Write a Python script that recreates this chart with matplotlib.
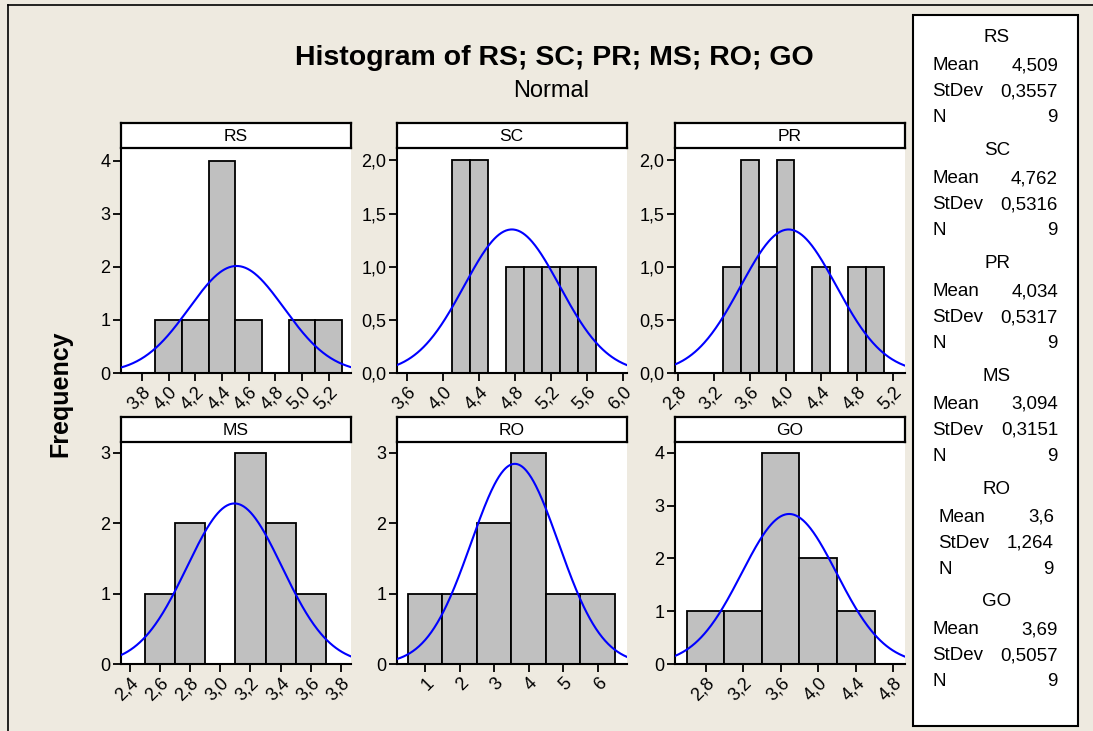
import numpy as np
import matplotlib.pyplot as plt
from matplotlib.patches import Rectangle
from matplotlib.lines import Line2D

plt.rcParams['font.family'] = ['Liberation Sans', 'DejaVu Sans']

names = ['RS', 'SC', 'PR', 'MS', 'RO', 'GO']

# bin midpoints and counts
rs_mid = [4.0, 4.2, 4.4, 4.6, 4.8, 5.0, 5.2]
rs_cnt = [1, 1, 4, 1, 0, 1, 1]
sc_mid = [4.2, 4.4, 4.6, 4.8, 5.0, 5.2, 5.4, 5.6]
sc_cnt = [2, 2, 0, 1, 1, 1, 1, 1]
pr_mid = [3.4, 3.6, 3.8, 4.0, 4.2, 4.4, 4.6, 4.8, 5.0]
pr_cnt = [1, 2, 1, 2, 0, 1, 0, 1, 1]
ms_mid = [2.6, 2.8, 3.0, 3.2, 3.4, 3.6]
ms_cnt = [1, 2, 0, 3, 2, 1]
ro_mid = [1, 2, 3, 4, 5, 6]
ro_cnt = [1, 1, 2, 3, 1, 1]
go_mid = [2.8, 3.2, 3.6, 4.0, 4.4]
go_cnt = [1, 1, 4, 2, 1]

bin_width = [0.2, 0.2, 0.2, 0.2, 1.0, 0.4]

means = [4.509, 4.762, 4.034, 3.094, 3.6, 3.69]
stdevs = [0.3557, 0.5316, 0.5317, 0.3151, 1.264, 0.5057]
n_obs = [9, 9, 9, 9, 9, 9]
mean_txt = ['4,509', '4,762', '4,034', '3,094', '3,6', '3,69']
sd_txt = ['0,3557', '0,5316', '0,5317', '0,3151', '1,264', '0,5057']

xticks = [
    [3.8, 4.0, 4.2, 4.4, 4.6, 4.8, 5.0, 5.2],
    [3.6, 4.0, 4.4, 4.8, 5.2, 5.6, 6.0],
    [2.8, 3.2, 3.6, 4.0, 4.4, 4.8, 5.2],
    [2.4, 2.6, 2.8, 3.0, 3.2, 3.4, 3.6, 3.8],
    [1, 2, 3, 4, 5, 6],
    [2.8, 3.2, 3.6, 4.0, 4.4, 4.8],
]
yticks = [
    [0, 1, 2, 3, 4],
    [0.0, 0.5, 1.0, 1.5, 2.0],
    [0.0, 0.5, 1.0, 1.5, 2.0],
    [0, 1, 2, 3],
    [0, 1, 2, 3],
    [0, 1, 2, 3, 4],
]
xlims = [(3.64, 5.365), (3.48, 6.04), (2.77, 5.33), (2.338, 3.866), (0.18, 6.84), (2.474, 4.924)]
ylims = [(0, 4.25), (0, 2.12), (0, 2.12), (0, 3.15), (0, 3.15), (0, 4.2)]

mids = [rs_mid, sc_mid, pr_mid, ms_mid, ro_mid, go_mid]
cnts = [rs_cnt, sc_cnt, pr_cnt, ms_cnt, ro_cnt, go_cnt]

W, H = 1093, 731
bg = '#EEEAE0'
fig = plt.figure(figsize=(W / 100, H / 100), dpi=100, facecolor=bg)


def fx(px):
    return px / W


def fy(px):
    return 1 - px / H


# outer frame lines (left and top)
fig.add_artist(Line2D([fx(8), fx(8)], [fy(5), 0], color='black', lw=1.2, transform=fig.transFigure))
fig.add_artist(Line2D([fx(8), 1], [fy(5), fy(5)], color='black', lw=1.2, transform=fig.transFigure))

col_lr = [(120.7, 350.7), (396.7, 626.7), (675, 905)]
row_tb = [(123.3, 147.7, 373), (416.7, 442, 664.3)]


def comma(v, dec=1):
    return ('%.*f' % (dec, v)).replace('.', ',')


for i, name in enumerate(names):
    r, c = divmod(i, 3)
    left, right = col_lr[c]
    stop, sbot, abot = row_tb[r]

    ax = fig.add_axes([fx(left), fy(abot), fx(right - left), (abot - sbot) / H])
    ax.set_facecolor('white')
    ax.bar(mids[i], cnts[i], width=bin_width[i], color='#C0C0C0',
           edgecolor='black', linewidth=1.3, zorder=2)
    xs = np.linspace(xlims[i][0], xlims[i][1], 300)
    scale = n_obs[i] * bin_width[i]
    ys = scale * np.exp(-0.5 * ((xs - means[i]) / stdevs[i]) ** 2) / (stdevs[i] * np.sqrt(2 * np.pi))
    ax.plot(xs, ys, color='#0000FF', lw=1.5, zorder=3)
    ax.set_xlim(*xlims[i])
    ax.set_ylim(*ylims[i])
    ax.spines['top'].set_visible(False)
    ax.spines['right'].set_visible(False)
    ax.spines['left'].set_linewidth(1.5)
    ax.spines['bottom'].set_linewidth(1.5)
    ax.set_xticks(xticks[i])
    ax.set_yticks(yticks[i])
    if name == 'RO':
        ax.set_xticklabels([str(t) for t in xticks[i]])
    else:
        ax.set_xticklabels([comma(t) for t in xticks[i]])
    if name in ('SC', 'PR'):
        ax.set_yticklabels([comma(t) for t in yticks[i]])
    else:
        ax.set_yticklabels([str(t) for t in yticks[i]])
    ax.tick_params(axis='both', direction='out', length=5.5, width=1.3,
                   labelsize=13, colors='black', pad=2)
    for lab in ax.get_xticklabels():
        lab.set_rotation(45)
        lab.set_ha('right')
        lab.set_va('top')
        lab.set_rotation_mode('anchor')

    sax = fig.add_axes([fx(left), fy(sbot), fx(right - left), (sbot - stop) / H])
    sax.set_facecolor('white')
    sax.set_xticks([])
    sax.set_yticks([])
    for sp in sax.spines.values():
        sp.set_linewidth(1.6)
    sax.text(0.5, 0.45, name, ha='center', va='center', fontsize=12.5, transform=sax.transAxes)

fig.text(fx(554), fy(58), 'Histogram of RS; SC; PR; MS; RO; GO', ha='center', va='center',
         fontsize=20.5, fontweight='bold')
fig.text(fx(551), fy(91), 'Normal', ha='center', va='center', fontsize=17)
fig.text(fx(60), fy(394), 'Frequency', ha='center', va='center', rotation=90,
         fontsize=18, fontweight='bold')

# stats panel
fig.add_artist(Rectangle((fx(913), fy(726)), fx(1078 - 913), (726 - 15) / H,
                         facecolor='white', edgecolor='black', lw=1.5,
                         transform=fig.transFigure))
fs = 13.5
for i, name in enumerate(names):
    y0 = 38 + i * 112.8
    lx, rx = 932, 1058
    if name == 'RO':
        lx, rx = 938, 1054
    fig.text(fx(997), fy(y0), name, ha='center', va='center', fontsize=fs)
    fig.text(fx(lx), fy(y0 + 28), 'Mean', ha='left', va='center', fontsize=fs)
    fig.text(fx(rx), fy(y0 + 28), mean_txt[i], ha='right', va='center', fontsize=fs)
    fig.text(fx(lx), fy(y0 + 54), 'StDev', ha='left', va='center', fontsize=fs)
    fig.text(fx(rx), fy(y0 + 54), sd_txt[i], ha='right', va='center', fontsize=fs)
    fig.text(fx(lx), fy(y0 + 80), 'N', ha='left', va='center', fontsize=fs)
    fig.text(fx(rx), fy(y0 + 80), str(n_obs[i]), ha='right', va='center', fontsize=fs)

fig.savefig('out.png', dpi=100, facecolor=bg)
